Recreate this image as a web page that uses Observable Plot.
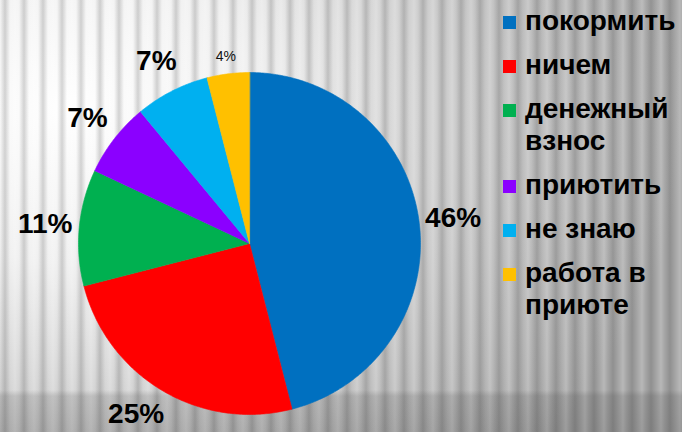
<!DOCTYPE html>
<html><head><meta charset="utf-8">
<script src="https://cdn.jsdelivr.net/npm/d3@7"></script>
<script src="https://cdn.jsdelivr.net/npm/@observablehq/plot@0.6"></script>
<style>
html,body{margin:0;padding:0;}
#wrap{position:relative;width:682px;height:432px;overflow:hidden;
background:
 linear-gradient(to bottom, rgba(0,0,0,0) 0px, rgba(0,0,0,0) 390px, rgba(50,50,50,0.16) 396px, rgba(50,50,50,0.2) 432px),
 repeating-linear-gradient(90deg, rgba(255,255,255,0) 0px, rgba(80,80,80,0.24) 5px, rgba(255,255,255,0) 10px, rgba(255,255,255,0.22) 15px, rgba(255,255,255,0) 19px),
 radial-gradient(ellipse 620px 520px at 10% 25%, #ffffff 0%, #f0f0f0 30%, #c2c2c2 70%, #a4a4a4 100%);
}
#chart{position:absolute;left:0;top:0;}
#legend{position:absolute;left:503px;top:5px;font:bold 28px "Liberation Sans",Arial,sans-serif;color:#000;}
.item{display:flex;align-items:flex-start;margin-bottom:12px;}
.sw{width:13px;height:13px;margin-top:11px;margin-right:9px;flex:none;}
.tx{width:165px;line-height:32px;white-space:nowrap;}
</style></head><body><div id="wrap"><div id="chart"></div><div id="legend"></div></div>
<script>
const categories = ["покормить", "ничем", "денежный взнос", "приютить", "не знаю", "работа в приюте"];
const legendLines = [["покормить"], ["ничем"], ["денежный", "взнос"], ["приютить"], ["не знаю"], ["работа в", "приюте"]];
const values = [46, 25, 11, 7, 7, 4];
const colors = ["#0070C0", "#FF0000", "#00B050", "#8B00FF", "#00B0F0", "#FFC000"];
const labels = ["46%", "25%", "11%", "7%", "7%", "4%"];

const W = 682, H = 432, R = 171, cx = 249, cy = 243;
const arcs = d3.pie().sort(null)(values);

const pts = [];
arcs.forEach((a, i) => {
  pts.push({cat: categories[i], x: 0, y: 0});
  const n = Math.max(4, Math.ceil((a.endAngle - a.startAngle) / 0.01));
  for (let k = 0; k <= n; k++) {
    const t = a.startAngle + (a.endAngle - a.startAngle) * k / n;
    pts.push({cat: categories[i], x: Math.sin(t), y: Math.cos(t)});
  }
});

// labels outside the pie; slide along the label circle to stay inside the frame
const yMin = -(H - 18 - cy) / R;
const lab = arcs.map((a, i) => {
  const m = (a.startAngle + a.endAngle) / 2;
  const small = values[i] < 5;
  const r = small ? 1.1 : 1.2;
  let x = r * Math.sin(m), y = r * Math.cos(m);
  if (y < yMin) { y = yMin; x = Math.sign(x) * Math.sqrt(r * r - y * y); }
  return {label: labels[i], x, y, small};
});

const chart = Plot.plot({
  width: W, height: H, margin: 0,
  style: {background: "transparent", overflow: "visible"},
  x: {domain: [-cx / R, (W - cx) / R], range: [0, W], axis: null},
  y: {domain: [-(H - cy) / R, cy / R], range: [H, 0], axis: null},
  color: {domain: categories, range: colors},
  marks: [
    Plot.line(pts, {x: "x", y: "y", z: "cat", fill: "cat", stroke: "cat", strokeWidth: 0.6, curve: "linear-closed"}),
    Plot.text(lab.filter(d => !d.small), {x: "x", y: "y", text: "label", fontSize: 28, fontWeight: "bold", fontFamily: "Liberation Sans, Arial, sans-serif", fill: "#000"}),
    Plot.text(lab.filter(d => d.small), {x: "x", y: "y", text: "label", fontSize: 14, fontFamily: "Liberation Sans, Arial, sans-serif", fill: "#111"})
  ]
});
document.getElementById("chart").appendChild(chart);

const leg = document.getElementById("legend");
categories.forEach((c, i) => {
  const it = document.createElement("div"); it.className = "item";
  const sw = document.createElement("div"); sw.className = "sw"; sw.style.background = colors[i];
  const tx = document.createElement("div"); tx.className = "tx";
  legendLines[i].forEach(s => { const l = document.createElement("div"); l.textContent = s; tx.appendChild(l); });
  it.appendChild(sw); it.appendChild(tx); leg.appendChild(it);
});
</script>
</body></html>
